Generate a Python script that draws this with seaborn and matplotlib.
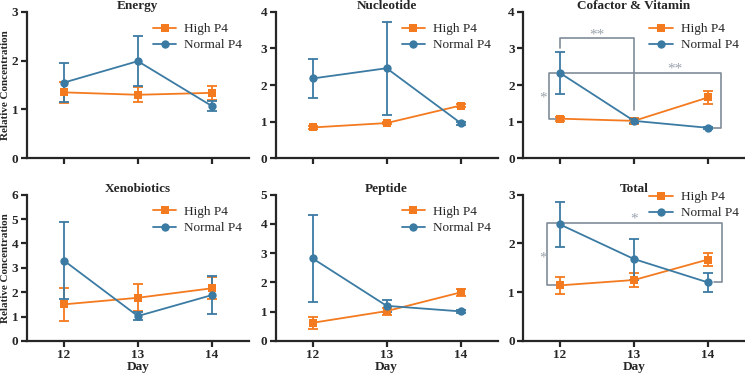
import seaborn as sns
import matplotlib.pyplot as plt
import pandas as pd

plt.switch_backend('agg')

days = [12, 13, 14]
groups = ['High P4', 'Normal P4']
panels = ['Energy', 'Nucleotide', 'Cofactor & Vitamin', 'Xenobiotics', 'Peptide', 'Total']
ymax = [3, 4, 4, 6, 5, 3]

# mean values per panel
high_mean = [
    [1.35, 1.30, 1.34],
    [0.84, 0.96, 1.44],
    [1.08, 1.02, 1.66],
    [1.50, 1.77, 2.16],
    [0.62, 1.02, 1.66],
    [1.14, 1.25, 1.67],
]
high_err = [
    [0.21, 0.15, 0.14],
    [0.03, 0.03, 0.05],
    [0.05, 0.08, 0.19],
    [0.68, 0.55, 0.45],
    [0.20, 0.12, 0.12],
    [0.18, 0.14, 0.13],
]
normal_mean = [
    [1.55, 1.99, 1.07],
    [2.18, 2.46, 0.96],
    [2.33, 1.02, 0.83],
    [3.30, 1.02, 1.88],
    [2.82, 1.20, 1.01],
    [2.39, 1.68, 1.20],
]
normal_err = [
    [0.40, 0.51, 0.11],
    [0.53, 1.27, 0.04],
    [0.57, 0.06, 0.03],
    [1.60, 0.15, 0.78],
    [1.50, 0.20, 0.04],
    [0.46, 0.42, 0.20],
]

# significance brackets: panel index -> list of (xs, ys), stars: (x, y, text)
brackets = {
    2: [([12, 12, 13, 13], [3.02, 3.29, 3.29, 1.31]),
        ([12, 14.17, 14.17, 14.07], [2.34, 2.34, 0.83, 0.83]),
        ([11.95, 11.85, 11.85, 11.95], [2.34, 2.34, 1.07, 1.07])],
    5: [([11.94, 11.83, 11.83, 14.19, 14.19, 14.08], [1.14, 1.14, 2.41, 2.41, 1.20, 1.20])],
}
stars = {
    2: [(12.5, 3.38, '**'), (13.55, 2.43, '**'), (11.77, 1.65, '*')],
    5: [(13.0, 2.5, '*'), (11.77, 1.70, '*')],
}
legend_anchor = [(1.0, 0.97), (1.0, 0.97), (1.0, 0.97), (1.0, 0.97), (1.0, 0.97), (1.0, 1.07)]

orange = '#F47A1F'
blue = '#3B7BA3'
grey = '#7F8C99'
palette = {'High P4': orange, 'Normal P4': blue}

sns.set_style('ticks')
plt.rcParams['font.family'] = ['Liberation Serif', 'DejaVu Serif']

fig = plt.figure(figsize=(7.45, 3.73), dpi=100)
lefts = [0.036, 0.370, 0.702]
bottoms = [0.576, 0.086]
w, h = 0.298, 0.392

for i, name in enumerate(panels):
    r, c = divmod(i, 3)
    ax = fig.add_axes([lefts[c], bottoms[r], w, h])
    df = pd.DataFrame({
        'Day': days * 2,
        'val': high_mean[i] + normal_mean[i],
        'err': high_err[i] + normal_err[i],
        'group': ['High P4'] * 3 + ['Normal P4'] * 3,
    })
    for g in groups:
        d = df[df.group == g]
        ax.errorbar(d.Day, d.val, yerr=d.err, fmt='none', ecolor=palette[g],
                    elinewidth=1.3, capsize=3.5, capthick=1.3, zorder=2)
    sns.lineplot(data=df, x='Day', y='val', hue='group', style='group',
                 markers={'High P4': 's', 'Normal P4': 'o'}, dashes=False,
                 palette=palette, markersize=6, markeredgewidth=0, linewidth=1.3,
                 ax=ax, zorder=3)

    for xs, ys in brackets.get(i, []):
        ax.plot(xs, ys, color=grey, lw=1.2, zorder=1)
    for x, y, t in stars.get(i, []):
        ax.text(x, y, t, color='#9aa3ad', ha='center', va='center', fontsize=11)

    ax.set_xlim(11.5, 14.5)
    ax.set_ylim(0, ymax[i])
    ax.set_xticks(days)
    ax.set_yticks(range(ymax[i] + 1))
    sns.despine(ax=ax)
    for s in ['left', 'bottom']:
        ax.spines[s].set_linewidth(1.6)
    ax.tick_params(width=1.6, length=4, labelsize=9.5, pad=2)
    for lab in ax.get_xticklabels() + ax.get_yticklabels():
        lab.set_fontweight('bold')
    ax.set_title(name, fontsize=9.5, fontweight='bold', pad=2)
    if r == 0:
        ax.set_xticklabels([])
        ax.set_xlabel('')
    else:
        ax.set_xlabel('Day', fontsize=9.5, fontweight='bold', labelpad=0)
    if c == 0:
        ax.set_ylabel('Relative Concentration', fontsize=8, fontweight='bold', labelpad=1)
    else:
        ax.set_ylabel('')
    ax.legend(frameon=False, loc='upper right', bbox_to_anchor=legend_anchor[i],
              fontsize=9.5, handlelength=1.8, handletextpad=0.6, labelspacing=0.3,
              borderaxespad=0.1)

plt.savefig('out.png', dpi=100)
